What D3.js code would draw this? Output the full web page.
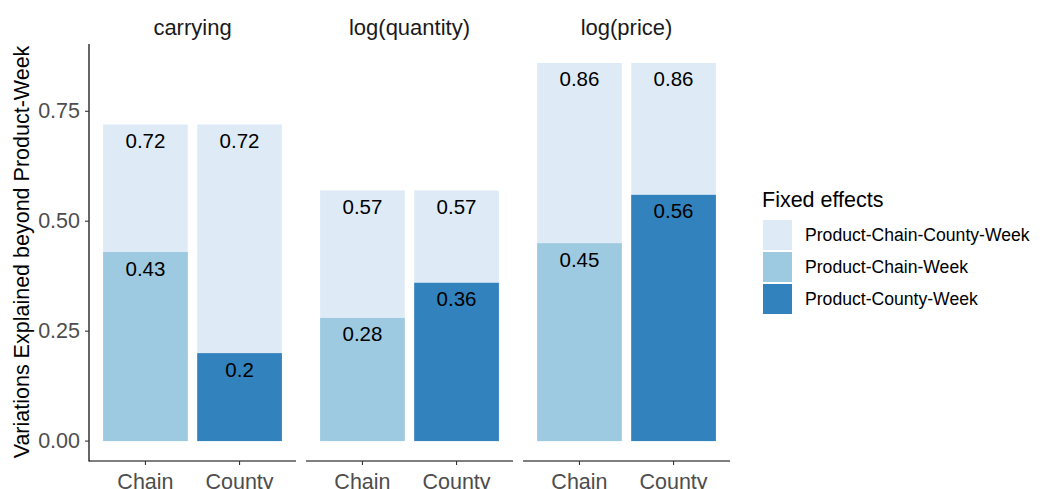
<!DOCTYPE html>
<html>
<head>
<meta charset="utf-8">
<script src="https://cdn.jsdelivr.net/npm/d3@7"></script>
<style>
  body { margin: 0; background: #fff; }
  svg { display: block; font-family: "Liberation Sans", Arial, sans-serif; }
</style>
</head>
<body>
<svg id="chart" width="1042" height="489"></svg>
<script>
// Outcomes shown as facets
const outcomes = ["carrying", "log(quantity)", "log(price)"];
// Fixed-effect level on the x axis
const levels = ["Chain", "County"];
// Share explained by the full Product-Chain-County-Week set (same for both bars of a facet)
const fullValues = [0.72, 0.57, 0.86];
// Share explained by Product-Chain-Week (Chain bar) and Product-County-Week (County bar)
const chainValues = [0.43, 0.28, 0.45];
const countyValues = [0.2, 0.36, 0.56];
// Legend entries
const fillNames = ["Product-Chain-County-Week", "Product-Chain-Week", "Product-County-Week"];
const fillColors = ["#DEEBF7", "#9ECAE1", "#3182BD"];
const yTicks = [0, 0.25, 0.5, 0.75];

const svg = d3.select("#chart");

const panelTop = 44, panelBottom = 460;
const panelX = [89, 306, 523];
const panelW = 207;

// y scale with 5% expansion around [0, max]
const yMax = d3.max(fullValues);
const pad = yMax * 0.05;
const y = d3.scaleLinear().domain([-pad, yMax + pad]).range([panelBottom, panelTop]);

const color = d3.scaleOrdinal().domain(fillNames).range(fillColors);

outcomes.forEach((name, i) => {
  const g = svg.append("g").attr("transform", `translate(${panelX[i]},0)`);
  // discrete axis: 0.6 units of padding on each side, bars 0.9 wide
  const unit = panelW / (levels.length - 1 + 1.2);
  const x = d3.scaleLinear().domain([0.4, levels.length + 0.6]).range([0, panelW]);
  const bw = unit * 0.9;

  const bars = [
    { lev: "Chain", v: fullValues[i], fill: fillNames[0] },
    { lev: "County", v: fullValues[i], fill: fillNames[0] },
    { lev: "Chain", v: chainValues[i], fill: fillNames[1] },
    { lev: "County", v: countyValues[i], fill: fillNames[2] }
  ];
  const xc = d => x(levels.indexOf(d.lev) + 1);

  g.selectAll("rect.bar").data(bars).join("rect")
    .attr("class", "bar")
    .attr("x", d => xc(d) - bw / 2)
    .attr("width", bw)
    .attr("y", d => y(d.v))
    .attr("height", d => y(0) - y(d.v))
    .attr("fill", d => color(d.fill));

  g.selectAll("text.lab").data(bars).join("text")
    .attr("class", "lab")
    .attr("x", d => xc(d))
    .attr("y", d => y(d.v) + 16)
    .attr("text-anchor", "middle")
    .attr("dominant-baseline", "central")
    .attr("font-size", 20.5)
    .attr("fill", "#000")
    .text(d => d3.format("")(d.v));

  // strip title
  g.append("text")
    .attr("x", panelW / 2)
    .attr("y", 27.5)
    .attr("text-anchor", "middle")
    .attr("dominant-baseline", "central")
    .attr("font-size", 22)
    .attr("fill", "#1A1A1A")
    .text(name);

  // bottom axis
  const xAxis = g.append("g").attr("transform", `translate(0,${panelBottom + 1})`);
  xAxis.append("line").attr("x1", 0).attr("x2", panelW).attr("y1", 0).attr("y2", 0)
    .attr("stroke", "#000").attr("stroke-width", 1.2);
  levels.forEach((lev, j) => {
    const px = x(j + 1);
    xAxis.append("line").attr("x1", px).attr("x2", px).attr("y1", 0).attr("y2", 4)
      .attr("stroke", "#333").attr("stroke-width", 1.1);
    xAxis.append("text").attr("x", px).attr("y", 27.5)
      .attr("text-anchor", "middle")
      .attr("font-size", 21.5)
      .attr("fill", "#4D4D4D")
      .text(lev);
  });
});

// left axis on the first panel
const yAxis = svg.append("g").attr("transform", `translate(${panelX[0]},0)`);
yAxis.append("line").attr("x1", 0).attr("x2", 0).attr("y1", panelTop).attr("y2", panelBottom + 1.6)
  .attr("stroke", "#000").attr("stroke-width", 1.2);
yTicks.forEach(t => {
  yAxis.append("line").attr("x1", -4).attr("x2", 0).attr("y1", y(t)).attr("y2", y(t))
    .attr("stroke", "#333").attr("stroke-width", 1.1);
  yAxis.append("text").attr("x", -9).attr("y", y(t))
    .attr("text-anchor", "end")
    .attr("dominant-baseline", "central")
    .attr("font-size", 21.5)
    .attr("fill", "#4D4D4D")
    .text(d3.format(".2f")(t));
});

// y axis title
svg.append("text")
  .attr("transform", `translate(22,${(panelTop + panelBottom) / 2}) rotate(-90)`)
  .attr("text-anchor", "middle")
  .attr("dominant-baseline", "central")
  .attr("font-size", 21.5)
  .attr("fill", "#000")
  .text("Variations Explained beyond Product-Week");

// legend
const legend = svg.append("g").attr("transform", "translate(762,0)");
legend.append("text").attr("x", 0).attr("y", 200)
  .attr("dominant-baseline", "central")
  .attr("font-size", 21.5)
  .attr("fill", "#000")
  .text("Fixed effects");
fillNames.forEach((n, k) => {
  const ky = 220 + k * 32;
  legend.append("rect").attr("x", 1).attr("y", ky).attr("width", 29).attr("height", 30)
    .attr("fill", color(n));
  legend.append("text").attr("x", 43).attr("y", ky + 15)
    .attr("dominant-baseline", "central")
    .attr("font-size", 17.6)
    .attr("fill", "#000")
    .text(n);
});
</script>
</body>
</html>
